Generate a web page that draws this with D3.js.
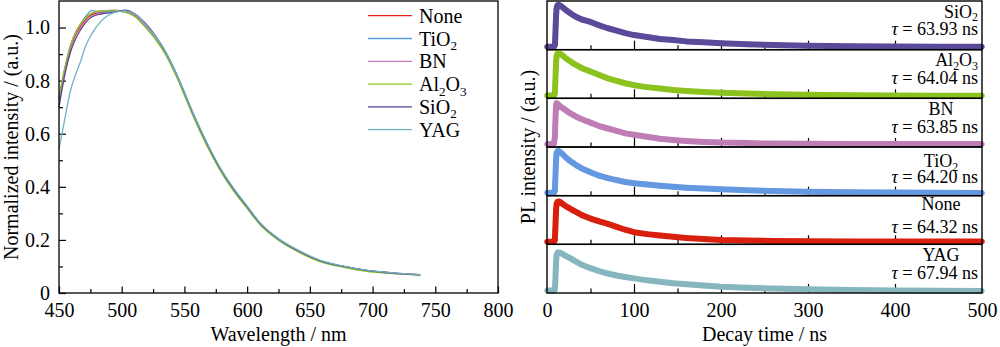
<!DOCTYPE html>
<html>
<head>
<meta charset="utf-8">
<script src="https://cdn.jsdelivr.net/npm/d3@7"></script>
<style>
  body { margin: 0; background: #fff; }
  svg, svg text { font-family: "Liberation Serif", "Times New Roman", "DejaVu Serif", serif; }
  .tick line { stroke: #000; stroke-width: 1.2; }
</style>
</head>
<body>
<svg id="chart" width="1000" height="347"></svg>
<script>
// ---- data: emission spectra (left) ----
const wavelengths = [450,455,459,463,467,471,476,484,495,503,511,519,527,535,543,551,557,568,578,589,600,610,626,642,658,677,695,714,738]
const specNone  = [0.73,0.85,0.92,0.97,1.003,1.028,1.048,1.058,1.062,1.062,1.043,1.01,0.966,0.907,0.83,0.742,0.674,0.562,0.472,0.392,0.324,0.264,0.2,0.157,0.122,0.1,0.085,0.076,0.069]
const specTiO2  = [0.73,0.855,0.93,0.978,1.012,1.04,1.064,1.058,1.062,1.058,1.04,1.003,0.958,0.9,0.824,0.736,0.668,0.556,0.468,0.388,0.32,0.26,0.197,0.153,0.12,0.098,0.083,0.075,0.068]
const specBN    = [0.73,0.852,0.927,0.977,1.01,1.035,1.053,1.063,1.066,1.06,1.046,1.007,0.962,0.904,0.828,0.74,0.672,0.56,0.47,0.39,0.323,0.263,0.2,0.156,0.122,0.1,0.085,0.077,0.068]
const specAl2O3 = [0.74,0.855,0.93,0.98,1.012,1.036,1.054,1.063,1.063,1.058,1.04,1.0,0.955,0.898,0.822,0.734,0.666,0.554,0.466,0.386,0.319,0.259,0.196,0.152,0.118,0.097,0.082,0.074,0.067]
const specSiO2  = [0.70,0.83,0.905,0.955,0.99,1.018,1.04,1.052,1.058,1.066,1.05,1.015,0.968,0.908,0.832,0.744,0.675,0.563,0.473,0.393,0.325,0.264,0.2,0.156,0.122,0.1,0.085,0.076,0.068]
const specYAG   = [0.54,0.665,0.76,0.82,0.87,0.928,0.975,1.026,1.058,1.063,1.05,1.012,0.966,0.909,0.832,0.745,0.677,0.566,0.476,0.396,0.328,0.266,0.202,0.158,0.124,0.101,0.086,0.077,0.069]

// ---- data: PL decay (right), normalised per panel ----
const decayTimes = [0,4,8,9,9.5,10,10.5,11,12,13,15,18,22,26,30,35,40,50,60,70,80,90,100,115,130,145,160,180,200,230,260,300,350,400,450,500]
const decaySiO2  = [0.06,0.06,0.06,0.09,0.25,0.5,0.72,0.85,0.91,0.92,0.91,0.87,0.81,0.76,0.71,0.66,0.62,0.57,0.5,0.44,0.39,0.34,0.3,0.26,0.22,0.2,0.17,0.15,0.13,0.11,0.095,0.08,0.07,0.065,0.06,0.06]
const decayAl2O3 = [0.06,0.06,0.06,0.1,0.3,0.55,0.75,0.87,0.92,0.93,0.92,0.88,0.82,0.77,0.72,0.67,0.62,0.55,0.48,0.41,0.36,0.31,0.27,0.23,0.2,0.17,0.15,0.13,0.115,0.1,0.085,0.075,0.065,0.06,0.055,0.055]
const decayBN    = [0.06,0.06,0.07,0.2,0.45,0.7,0.86,0.9,0.89,0.87,0.84,0.8,0.75,0.7,0.66,0.61,0.57,0.5,0.43,0.38,0.33,0.28,0.25,0.21,0.17,0.145,0.125,0.105,0.09,0.08,0.07,0.065,0.06,0.06,0.06,0.06]
const decayTiO2  = [0.06,0.06,0.06,0.1,0.3,0.55,0.75,0.87,0.91,0.92,0.9,0.85,0.78,0.72,0.67,0.61,0.56,0.48,0.41,0.36,0.32,0.28,0.255,0.23,0.205,0.185,0.165,0.145,0.13,0.11,0.095,0.08,0.07,0.065,0.06,0.055]
const decayNone  = [0.055,0.055,0.055,0.09,0.28,0.52,0.72,0.83,0.87,0.88,0.87,0.83,0.78,0.74,0.7,0.65,0.6,0.53,0.47,0.42,0.36,0.3,0.25,0.21,0.18,0.155,0.13,0.11,0.09,0.08,0.07,0.065,0.06,0.06,0.058,0.058]
const decayYAG   = [0.05,0.05,0.05,0.07,0.2,0.45,0.65,0.77,0.82,0.835,0.83,0.8,0.76,0.72,0.68,0.63,0.58,0.51,0.45,0.4,0.36,0.33,0.3,0.26,0.23,0.2,0.18,0.155,0.13,0.11,0.09,0.075,0.06,0.05,0.045,0.04]

const sampleNames = ['None','TiO2','BN','Al2O3','SiO2','YAG']
const lifetimes = {SiO2: '63.93', Al2O3: '64.04', BN: '63.85', TiO2: '64.20', None: '64.32', YAG: '67.94'}
const panelOrder = ['SiO2','Al2O3','BN','TiO2','None','YAG']

const wlTicks = [450,500,550,600,650,700,750,800]
const intTicks = [0,0.2,0.4,0.6,0.8,1.0]
const timeTicks = [0,100,200,300,400,500]

// ---- styling ----
const FONT = '"Liberation Serif", "Times New Roman", "DejaVu Serif", serif'
const lineColors = {None:'#e8231b', TiO2:'#5b9be6', BN:'#c07ab8', Al2O3:'#8cc21e', SiO2:'#5a3f9a', YAG:'#6fb3c6'}
const dotColors  = {None:'#d9200f', TiO2:'#6498e0', BN:'#bf7db5', Al2O3:'#8cc21e', SiO2:'#5b4a99', YAG:'#86b7bf'}
const spectra = {None:specNone, TiO2:specTiO2, BN:specBN, Al2O3:specAl2O3, SiO2:specSiO2, YAG:specYAG}
const decays  = {None:decayNone, TiO2:decayTiO2, BN:decayBN, Al2O3:decayAl2O3, SiO2:decaySiO2, YAG:decayYAG}
// per-panel label placement (top to bottom)
const nameAnchor = ['end','end','middle','middle','middle','middle']
const nameDy = [16.5, 16.5, 16.5, 20, 14, 17]
const tauDy  = [34, 34, 35, 36, 37.5, 35]

const svg = d3.select('#chart').attr('font-family', FONT)

// chemical formula with subscript digits
function chemText(sel, name, size) {
    const parts = name.match(/[A-Za-z]+|\d+/g)
    const shift = size * 0.22
    let down = false
    parts.forEach(p => {
        const sp = sel.append('tspan')
        if (/\d/.test(p)) {
            sp.attr('font-size', size * 0.66).attr('dy', down ? 0 : shift)
            down = true
        } else {
            sp.attr('font-size', size).attr('dy', down ? -shift : 0)
            down = false
        }
        sp.text(p)
    })
}

function styleTicks(g) {
    g.attr('font-family', FONT).attr('font-size', 20)
    g.selectAll('.tick text').attr('fill', '#000')
    g.select('.domain').remove()
}

/**
 * Left: normalized emission spectra
 */
const L = {x0: 59, x1: 498, y0: 1, y1: 293}
const xW = d3.scaleLinear().domain([450, 800]).range([L.x0, L.x1])
const yI = d3.scaleLinear().domain([0, 1.1]).range([L.y1, L.y0])

const left = svg.append('g')

left.append('g')
    .attr('transform', `translate(0,${L.y1})`)
    .call(d3.axisBottom(xW).tickValues(d3.range(475, 800, 50)).tickSize(-4).tickFormat(''))
    .call(styleTicks)
left.append('g')
    .attr('transform', `translate(0,${L.y1})`)
    .call(d3.axisBottom(xW).tickValues(wlTicks).tickSize(-6.5).tickPadding(9.5))
    .call(styleTicks)
left.append('g')
    .attr('transform', `translate(${L.x0},0)`)
    .call(d3.axisLeft(yI).tickValues([0.1,0.3,0.5,0.7,0.9]).tickSize(-4).tickFormat(''))
    .call(styleTicks)
left.append('g')
    .attr('transform', `translate(${L.x0},0)`)
    .call(d3.axisLeft(yI).tickValues(intTicks).tickSize(-7).tickPadding(9)
        .tickFormat(d => d === 0 ? '0' : d3.format('.1f')(d)))
    .call(styleTicks)

const specLine = d3.line()
    .x((d, i) => xW(wavelengths[i]))
    .y(d => yI(d))
    .curve(d3.curveMonotoneX)

left.selectAll('path.spec')
    .data(sampleNames)
    .join('path')
    .attr('class', 'spec')
    .attr('fill', 'none')
    .attr('stroke', d => lineColors[d])
    .attr('stroke-width', 1.3)
    .attr('d', d => specLine(spectra[d]))

left.append('rect')
    .attr('x', L.x0).attr('y', L.y0)
    .attr('width', L.x1 - L.x0).attr('height', L.y1 - L.y0)
    .attr('fill', 'none').attr('stroke', '#000').attr('stroke-width', 1.3)

// legend
const legend = left.append('g')
sampleNames.forEach((name, i) => {
    const y = 15.7 + i * 22.8
    legend.append('line')
        .attr('x1', 368).attr('x2', 412).attr('y1', y).attr('y2', y)
        .attr('stroke', lineColors[name]).attr('stroke-width', 1.3)
    const t = legend.append('text').attr('x', 419).attr('y', y + 7).attr('font-size', 20)
    chemText(t, name, 20)
})

left.append('text')
    .attr('x', (L.x0 + L.x1) / 2).attr('y', 341)
    .attr('text-anchor', 'middle').attr('font-size', 20)
    .text('Wavelength / nm')
left.append('text')
    .attr('transform', `translate(17.5,${(L.y0 + L.y1) / 2}) rotate(-90)`)
    .attr('text-anchor', 'middle').attr('font-size', 20)
    .text('Normalized intensity / (a.u.)')

/**
 * Right: stacked PL decay panels
 */
const R = {x0: 547, x1: 982, y0: 1, y1: 293}
const xT = d3.scaleLinear().domain([0, 500]).range([R.x0, R.x1])
const panelH = (R.y1 - R.y0) / panelOrder.length
const right = svg.append('g')

panelOrder.forEach((name, i) => {
    const top = R.y0 + i * panelH
    const bottom = top + panelH
    const yP = d3.scaleLinear().domain([0, 1]).range([bottom, top])
    const g = right.append('g')

    g.append('g')
        .attr('transform', `translate(0,${bottom})`)
        .call(d3.axisBottom(xT).tickValues([50,150,250,350,450]).tickSize(-4.5).tickFormat(''))
        .call(styleTicks)
    g.append('g')
        .attr('transform', `translate(0,${bottom})`)
        .call(d3.axisBottom(xT).tickValues([100,200,300,400]).tickSize(-9).tickFormat(''))
        .call(styleTicks)

    const vals = decays[name]
    const decayLine = d3.line()
        .x((d, j) => xT(decayTimes[j]))
        .y(d => yP(d))

    g.append('path')
        .datum(vals)
        .attr('fill', 'none')
        .attr('stroke', dotColors[name])
        .attr('stroke-width', 6)
        .attr('stroke-linejoin', 'round')
        .attr('d', decayLine)

    g.selectAll('circle')
        .data(vals)
        .join('circle')
        .attr('cx', (d, j) => xT(decayTimes[j]))
        .attr('cy', d => yP(d))
        .attr('r', 2.7)
        .attr('fill', dotColors[name])

    g.append('rect')
        .attr('x', R.x0).attr('y', top)
        .attr('width', R.x1 - R.x0).attr('height', panelH)
        .attr('fill', 'none').attr('stroke', '#000').attr('stroke-width', 1.4)

    // two-line label: sample name above lifetime
    const label = g.append('text').attr('font-size', 18)
    const nameLine = label.append('tspan')
        .attr('x', nameAnchor[i] === 'end' ? 978 : 941).attr('y', top + nameDy[i])
        .attr('text-anchor', nameAnchor[i])
    chemText(nameLine, name, 18)
    const tauLine = label.append('tspan')
        .attr('x', 978).attr('y', top + tauDy[i])
        .attr('text-anchor', 'end')
    tauLine.append('tspan').attr('font-style', 'italic').text('\u03C4')
    tauLine.append('tspan').text(` = ${lifetimes[name]} ns`)
})

right.append('g')
    .attr('transform', `translate(0,${R.y1})`)
    .call(d3.axisBottom(xT).tickValues(timeTicks).tickSize(0).tickPadding(9.5))
    .call(styleTicks)

right.append('text')
    .attr('x', (R.x0 + R.x1) / 2).attr('y', 341)
    .attr('text-anchor', 'middle').attr('font-size', 20)
    .text('Decay time / ns')
right.append('text')
    .attr('transform', `translate(535,${(R.y0 + R.y1) / 2}) rotate(-90)`)
    .attr('text-anchor', 'middle').attr('font-size', 20)
    .text('PL intensity / (a.u.)')
</script>
</body>
</html>
